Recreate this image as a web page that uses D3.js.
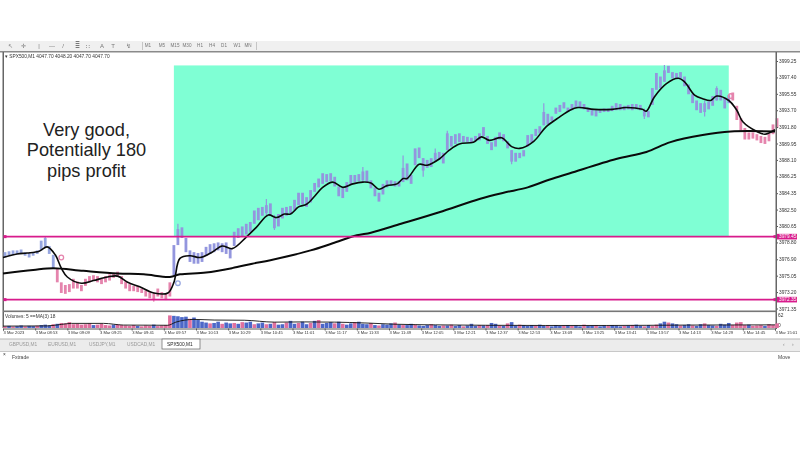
<!DOCTYPE html>
<html>
<head>
<meta charset="utf-8">
<script src="https://cdn.jsdelivr.net/npm/d3@7"></script>
<style>
  html, body { margin: 0; padding: 0; background: #fff; }
  svg { display: block; }
  text { font-family: "Liberation Sans", sans-serif; }
</style>
</head>
<body>
<div id="chart"></div>
<script>
var svgWidth = 800;
var svgHeight = 450;

var priceTicks = [3999.25, 3997.40, 3995.55, 3993.70, 3991.80, 3989.95, 3988.10, 3986.25,
  3984.35, 3982.50, 3980.65, 3978.80, 3976.90, 3975.05, 3973.20, 3971.35];

var timeMinutes = [0, 16, 32, 48, 64, 80, 96, 112, 128, 144, 160, 176, 192, 208, 224, 240,
  256, 272, 288, 304, 320, 336, 352, 368, 384];
var timeLabels = ["3 Mar 2023", "3 Mar 08:53", "3 Mar 09:09", "3 Mar 09:25", "3 Mar 09:41", "3 Mar 09:57",
  "3 Mar 10:13", "3 Mar 10:29", "3 Mar 10:45", "3 Mar 11:01", "3 Mar 11:17", "3 Mar 11:33", "3 Mar 11:49",
  "3 Mar 12:05", "3 Mar 12:21", "3 Mar 12:37", "3 Mar 12:53", "3 Mar 13:09", "3 Mar 13:25", "3 Mar 13:41",
  "3 Mar 13:57", "3 Mar 14:13", "3 Mar 14:29", "3 Mar 14:45", "3 Mar 15:01"];

// candle bodies, one every two minutes starting at minute 1
var barTop = [
  3977.7,3977.8,3977.9,3977.9,3978.0,3977.7,3977.6,3977.6,3977.9,3979.0,
  3979.3,3978.4,3977.4,3975.9,3974.3,3974.0,3974.1,3974.7,3974.4,3974.0,
  3974.7,3975.0,3975.1,3975.0,3974.7,3975.0,3975.2,3975.3,3975.5,3975.0,
  3974.4,3974.1,3973.9,3973.9,3973.6,3973.4,3973.2,3973.0,3973.6,3973.2,
  3973.0,3974.3,3978.5,3980.3,3980.5,3979.3,3977.9,3977.7,3977.6,3977.7,
  3978.3,3978.6,3978.7,3978.8,3978.7,3978.8,3978.1,3980.0,3980.4,3980.6,
  3980.9,3981.1,3982.4,3982.7,3982.8,3983.0,3983.2,3981.6,3982.0,3982.7,
  3982.8,3982.9,3983.6,3984.4,3984.4,3983.9,3984.7,3985.5,3986.0,3986.6,
  3986.5,3986.6,3986.2,3985.1,3984.9,3985.6,3986.4,3986.4,3986.5,3986.8,
  3986.9,3985.8,3985.0,3984.4,3985.4,3985.8,3985.8,3985.7,3985.7,3987.2,
  3987.7,3986.4,3989.4,3989.5,3988.3,3988.1,3988.3,3988.9,3989.0,3988.9,
  3991.1,3990.8,3991.0,3991.1,3990.8,3990.7,3990.6,3990.8,3991.1,3991.8,
  3990.8,3990.1,3990.7,3991.2,3991.0,3990.2,3989.2,3988.9,3988.9,3989.2,
  3990.9,3991.0,3991.6,3991.9,3993.5,3993.3,3993.0,3994.0,3994.3,3994.6,
  3994.0,3994.4,3994.8,3994.7,3994.4,3994.0,3993.8,3993.7,3993.8,3993.9,
  3993.9,3994.2,3994.5,3994.4,3994.2,3994.3,3994.4,3994.4,3994.3,3993.7,
  3993.6,3996.2,3997.9,3997.5,3998.2,3998.7,3998.0,3997.9,3998.0,3997.5,
  3996.6,3995.5,3994.8,3994.5,3994.5,3994.7,3995.3,3996.2,3996.0,3995.1,
  3995.4,3995.7,3994.2,3992.8,3991.7,3991.2,3991.2,3991.0,3990.8,3990.7,
  3991.1,3992.1,3992.8];
var barBottom = [
  3977.1,3977.3,3977.4,3977.5,3977.6,3977.3,3977.1,3977.3,3977.5,3977.9,
  3978.3,3977.5,3975.9,3974.3,3973.1,3973.0,3973.2,3973.6,3973.6,3973.3,
  3973.9,3974.3,3974.5,3974.3,3974.1,3974.3,3974.5,3974.8,3974.9,3974.1,
  3973.6,3973.3,3973.3,3973.2,3973.1,3972.7,3972.5,3972.3,3972.7,3972.5,
  3972.3,3972.7,3975.1,3978.5,3979.3,3977.7,3976.6,3976.4,3976.4,3976.6,
  3977.3,3977.5,3977.7,3977.9,3977.7,3977.5,3977.0,3978.4,3979.3,3979.5,
  3979.7,3980.0,3980.9,3981.3,3981.8,3982.1,3981.8,3980.4,3980.6,3981.5,
  3981.8,3982.1,3982.4,3983.0,3983.1,3982.8,3983.3,3984.5,3985.0,3985.4,
  3985.6,3985.7,3985.1,3984.0,3983.8,3984.5,3985.4,3985.6,3985.7,3985.8,
  3985.6,3984.9,3984.0,3983.4,3984.2,3985.0,3985.2,3985.1,3985.1,3985.6,
  3985.8,3985.4,3987.5,3988.3,3986.9,3987.2,3987.3,3988.0,3988.1,3987.7,
  3989.2,3989.6,3989.9,3990.1,3990.1,3990.1,3990.1,3990.2,3990.3,3990.8,
  3989.9,3989.2,3989.6,3990.4,3990.2,3989.4,3987.9,3987.9,3988.3,3988.5,
  3989.6,3990.1,3990.8,3991.1,3992.0,3992.1,3992.5,3993.3,3993.5,3993.9,
  3993.5,3993.7,3994.0,3994.0,3993.8,3993.5,3993.1,3993.0,3993.4,3993.5,
  3993.5,3993.6,3993.7,3993.7,3993.7,3993.8,3993.7,3993.8,3993.7,3993.0,
  3992.9,3994.3,3996.0,3996.2,3996.9,3997.9,3997.3,3997.3,3997.3,3996.4,
  3995.5,3994.5,3993.7,3993.4,3993.5,3993.8,3994.2,3994.8,3994.8,3993.9,
  3994.5,3994.8,3992.6,3991.4,3990.4,3990.4,3990.5,3990.3,3990.0,3989.9,
  3990.2,3991.0,3991.7];

// the few long wicks that stick out of the candle mass
var wickMinutes = [269, 199, 221, 209, 215, 253, 179, 135, 131, 87, 329, 349, 355, 319, 75, 21];
var wickHigh = [3994.5, 3988.6, 3991.4, 3988.3, 3989.4, 3989.2, 3987.3, 3981.9, 3983.7, 3980.9, 3998.8, 3994.8, 3996.4, 3993.9, 3973.2, 3979.5];
var wickLow = [3992.0, 3985.8, 3989.2, 3986.2, 3988.0, 3987.6, 3985.6, 3980.2, 3981.9, 3978.5, 3997.8, 3993.0, 3994.8, 3992.7, 3972.1, 3978.2];

// minute at which the candle colour flips
var trendMinutes = [0, 27, 85, 363];
var trendColors = ["#97a6e0", "#e584ad", "#9396de", "#e584ad"];

var fastMinutes = [0,7,12,18,22,26,29,32,39,45,52,57,62,68,75,82,85,88,93,98,104,109,114,121,126,132,136,140,143,147,151,155,159,164,169,174,179,183,187,191,196,199,201,207,211,217,222,227,234,238,242,248,253,257,264,270,276,282,286,294,303,310,318,320,324,330,336,339,344,348,352,355,361,365,368,375,379,384];
var fastValues = [3977.1,3977.5,3977.6,3977.8,3978.3,3977.4,3975.9,3974.9,3974.2,3974.5,3974.9,3975.0,3974.3,3973.8,3973.1,3973.1,3974.3,3977.0,3977.3,3977.1,3977.7,3978.4,3978.1,3979.4,3980.5,3981.9,3981.6,3982.0,3982.0,3982.8,3983.1,3984.0,3985.0,3985.6,3985.0,3985.4,3985.6,3985.5,3984.8,3985.2,3985.4,3986.0,3986.0,3987.6,3987.5,3988.2,3989.2,3989.9,3990.1,3990.7,3990.3,3990.6,3989.6,3989.4,3990.2,3991.8,3992.8,3993.7,3994.0,3993.8,3993.8,3994.0,3993.8,3993.6,3995.2,3996.7,3997.3,3996.9,3995.4,3995.0,3994.8,3995.3,3994.8,3993.7,3992.4,3991.3,3991.0,3991.5];

var slowMinutes = [0,15,25,40,57,70,83,88,101,114,124,133,153,164,176,183,198,217,237,249,261,272,282,305,320,332,348,362,384];
var slowValues = [3975.3,3975.7,3975.9,3975.6,3975.3,3975.2,3974.9,3975.2,3975.4,3975.9,3976.4,3976.8,3977.9,3978.7,3979.6,3979.9,3980.9,3982.2,3983.7,3984.4,3985.0,3985.9,3986.6,3988.2,3989.0,3990.1,3990.9,3991.3,3991.3];

var shadeMinutes = [85, 361];
var shadePrices = [3998.75, 3979.45];
var levelPrices = [3979.45, 3972.35];
var levelLabels = ["3979.45", "3972.35"];

var signalMinutes = [29, 87, 362];
var signalPrices = [3977.1, 3974.2, 3995.3];
var signalColors = ["#e584ad", "#97a6e0", "#e584ad"];

// volume histogram, same two minute step as the candles
var volumes = [
  8,10,7,9,12,8,10,9,11,14,
  16,12,18,20,24,22,28,18,20,16,
  18,22,14,16,20,14,12,16,18,14,
  12,10,14,10,8,12,10,16,9,12,
  14,60,58,56,52,54,44,50,38,30,
  26,22,24,30,20,26,22,24,20,28,
  26,30,18,22,26,18,20,28,16,18,
  26,34,20,24,30,18,24,34,38,20,
  24,28,22,30,20,16,22,28,30,20,
  18,24,14,12,18,16,22,26,16,14,
  14,20,16,12,10,14,18,14,10,12,
  12,16,10,14,8,12,20,10,14,12,
  14,24,20,12,10,22,28,12,16,14,
  10,14,12,16,10,12,8,14,10,12,
  14,10,12,8,16,10,12,14,8,12,
  10,14,12,8,10,12,14,16,10,8,
  14,10,16,22,30,26,22,18,12,14,
  18,12,10,18,22,14,12,10,20,16,
  24,14,26,28,14,16,10,12,14,10,
  18,14,22];
var volumeSide = ("pbpbbpbbpb" + "bbpbpppppp" + "ppbppppbpp" + "pppbpppbpp" + "ppbbbbpbbb" +
  "bpbbpbbpbp" + "bbpbbpbpbb" + "pbbpbbpbpb" + "bbpbpbbpbb" + "bpbpbbbpbp" +
  "bbpbbbpbbp" + "bpbbpbbbpb" + "pbbpbpbbpb" + "bbpbbpbbbp" + "bpbbpbbpbb" +
  "pbbbpbpbbp" + "bppbbpbbpb" + "bpbbpbbpbb" + "bppppbpppb" + "ppp").split("");
var volumeMaMinutes = [0,22,29,34,50,60,82,86,95,105,120,135,150,165,180,195,215,240,270,300,340,384];
var volumeMaValues = [9,10,17,22,22,14,13,28,41,38,37,28,29,28,24,18,15,13,12,12,14,15];

var tabNames = ["GBPUSD,M1", "EURUSD,M1", "USDJPY,M1", "USDCAD,M1", "SPX500,M1"];
var periodNames = ["M1", "M5", "M15", "M30", "H1", "H4", "D1", "W1", "MN"];
var toolNames = ["↖", "✛", "|", "—", "/", "≣", "∷", "A", "T", "↯"];
var noteLines = ["Very good,", "Potentially 180", "pips profit"];

var svg = d3
  .select("#chart")
  .append("svg")
  .attr("width", svgWidth)
  .attr("height", svgHeight);

// the reference is a scaled down screenshot, so marks and small text are soft
var defs = svg.append("defs");
defs.append("filter")
  .attr("id", "soft")
  .attr("filterUnits", "userSpaceOnUse")
  .attr("x", 0).attr("y", 0).attr("width", svgWidth).attr("height", svgHeight)
  .append("feGaussianBlur").attr("stdDeviation", 0.6);
defs.append("filter")
  .attr("id", "softText")
  .attr("filterUnits", "userSpaceOnUse")
  .attr("x", 0).attr("y", 0).attr("width", svgWidth).attr("height", svgHeight)
  .append("feGaussianBlur").attr("stdDeviation", 0.3);

var xScale = d3.scaleLinear().domain([0, 384]).range([3, 775]);
var yScale = d3.scaleLinear().domain([3999.25, 3971.35]).range([61, 308.5]);
var volumeScale = d3.scaleLinear().domain([0, 62]).range([328, 315]);

// toolbar
svg.append("rect").attr("x", 0).attr("y", 41).attr("width", 800).attr("height", 10).attr("fill", "#f0f0f0");
svg.append("rect").attr("x", 0).attr("y", 51).attr("width", 800).attr("height", 1.5).attr("fill", "#8a8a8a");
svg.append("rect").attr("x", 2.5).attr("y", 52).attr("width", 1.5).attr("height", 276).attr("fill", "#666");
svg.append("rect").attr("x", 142).attr("y", 42).attr("width", 0.8).attr("height", 8).attr("fill", "#bbb");
svg.append("rect").attr("x", 256).attr("y", 42).attr("width", 0.8).attr("height", 8).attr("fill", "#bbb");

var smallText = svg.append("g").attr("filter", "url(#softText)");

smallText.selectAll(".tool")
  .data(toolNames)
  .enter()
  .append("text")
  .attr("x", function(d, i) { return [10, 23, 39, 52, 63, 77, 88, 102, 113, 128][i]; })
  .attr("y", 48)
  .attr("text-anchor", "middle")
  .attr("font-size", "6px")
  .attr("fill", "#777")
  .text(function(d) { return d; });

smallText.selectAll(".period")
  .data(periodNames)
  .enter()
  .append("text")
  .attr("x", function(d, i) { return [148, 162, 175, 187, 200, 212, 224, 237, 248][i]; })
  .attr("y", 47)
  .attr("text-anchor", "middle")
  .attr("font-size", "4.6px")
  .attr("fill", "#777")
  .text(function(d) { return d; });

smallText.append("text")
  .attr("x", 5)
  .attr("y", 58)
  .attr("font-size", "4.8px")
  .attr("fill", "#333")
  .text("▾ SPX500,M1  4047.70 4048.20 4047.70 4047.70");

// profit zone
svg.append("rect")
  .attr("x", xScale(shadeMinutes[0]))
  .attr("y", yScale(shadePrices[0]))
  .attr("width", xScale(shadeMinutes[1]) - xScale(shadeMinutes[0]))
  .attr("height", yScale(shadePrices[1]) - yScale(shadePrices[0]))
  .attr("fill", "#7fffd4");

var minuteColor = d3.scaleThreshold().domain(trendMinutes.slice(1)).range(trendColors);

// candles
var candleGroup = svg.append("g").attr("filter", "url(#soft)");

candleGroup.selectAll(".wick")
  .data(wickMinutes)
  .enter()
  .append("line")
  .attr("x1", function(d) { return xScale(d); })
  .attr("x2", function(d) { return xScale(d); })
  .attr("y1", function(d, i) { return yScale(wickHigh[i]); })
  .attr("y2", function(d, i) { return yScale(wickLow[i]); })
  .attr("stroke", function(d) { return minuteColor(d); })
  .attr("stroke-width", 1.2);

candleGroup.selectAll(".bar")
  .data(barTop)
  .enter()
  .append("rect")
  .attr("x", function(d, i) { return xScale(1 + i * 2) - 1.4; })
  .attr("y", function(d) { return yScale(d); })
  .attr("width", 2.8)
  .attr("height", function(d, i) { return yScale(barBottom[i]) - yScale(d); })
  .attr("fill", function(d, i) { return minuteColor(1 + i * 2); });

candleGroup.selectAll(".signal")
  .data(signalMinutes)
  .enter()
  .append("circle")
  .attr("cx", function(d) { return xScale(d); })
  .attr("cy", function(d, i) { return yScale(signalPrices[i]); })
  .attr("r", 2.3)
  .attr("fill", "none")
  .attr("stroke-width", 1.3)
  .attr("stroke", function(d, i) { return signalColors[i]; });

// moving averages
var maLine = d3.line()
  .x(function(d) { return xScale(d[0]); })
  .y(function(d) { return yScale(d[1]); })
  .curve(d3.curveCatmullRom);

svg.append("path")
  .attr("d", maLine(d3.zip(slowMinutes, slowValues)))
  .attr("fill", "none")
  .attr("stroke", "#0a0a0a")
  .attr("stroke-width", 2);

svg.append("path")
  .attr("d", maLine(d3.zip(fastMinutes, fastValues)))
  .attr("fill", "none")
  .attr("stroke", "#0a0a0a")
  .attr("stroke-width", 1.6);

// horizontal levels
svg.selectAll(".level")
  .data(levelPrices)
  .enter()
  .append("line")
  .attr("x1", 4)
  .attr("x2", 776)
  .attr("y1", function(d) { return yScale(d); })
  .attr("y2", function(d) { return yScale(d); })
  .attr("stroke", "#d81b8c")
  .attr("stroke-width", 1.8);

svg.selectAll(".levelEnd")
  .data(levelPrices.concat(levelPrices))
  .enter()
  .append("rect")
  .attr("x", function(d, i) { return i < 2 ? 3.5 : 773.5; })
  .attr("y", function(d) { return yScale(d) - 1.5; })
  .attr("width", 3)
  .attr("height", 3)
  .attr("fill", "#d81b8c");

// price axis
var rightAxis = d3.axisRight(yScale)
  .tickValues(priceTicks)
  .tickFormat(d3.format(".2f"))
  .tickSize(2)
  .tickPadding(1);

var priceAxis = svg.append("g")
  .attr("transform", "translate(776, 0)")
  .attr("filter", "url(#softText)")
  .call(rightAxis);
priceAxis.select(".domain").remove();
priceAxis.selectAll("text").attr("font-size", "4.8px").attr("fill", "#333").style("font-family", "Liberation Sans");
priceAxis.selectAll("line").attr("stroke", "#555");

svg.append("rect").attr("x", 775.5).attr("y", 52).attr("width", 1.5).attr("height", 277).attr("fill", "#666");

svg.selectAll(".levelTag")
  .data(levelPrices)
  .enter()
  .append("rect")
  .attr("x", 777)
  .attr("y", function(d) { return yScale(d) - 2.8; })
  .attr("width", 20)
  .attr("height", 5.6)
  .attr("fill", "#d81b8c");

svg.selectAll(".levelText")
  .data(levelLabels)
  .enter()
  .append("text")
  .attr("x", 779)
  .attr("y", function(d, i) { return yScale(levelPrices[i]) + 1.8; })
  .attr("font-size", "4.8px")
  .attr("fill", "#fff")
  .text(function(d) { return d; });

// volume window
svg.append("rect").attr("x", 3).attr("y", 310.5).attr("width", 774).attr("height", 1.6).attr("fill", "#777");

var volumeGroup = svg.append("g").attr("filter", "url(#soft)");

volumeGroup.selectAll(".volume")
  .data(volumes)
  .enter()
  .append("rect")
  .attr("x", function(d, i) { return xScale(1 + i * 2) - 1.8; })
  .attr("y", function(d) { return volumeScale(d); })
  .attr("width", 3.6)
  .attr("height", function(d) { return volumeScale(0) - volumeScale(d); })
  .attr("fill", function(d, i) { return volumeSide[i] == "b" ? "#4d68c8" : "#e0709e"; });

var volumeMaLine = d3.line()
  .x(function(d) { return xScale(d[0]); })
  .y(function(d) { return volumeScale(d[1]); })
  .curve(d3.curveMonotoneX);

svg.append("path")
  .attr("d", volumeMaLine(d3.zip(volumeMaMinutes, volumeMaValues)))
  .attr("fill", "none")
  .attr("stroke", "#111")
  .attr("stroke-width", 0.9);

smallText.append("text")
  .attr("x", 5)
  .attr("y", 317.5)
  .attr("font-size", "4.8px")
  .attr("fill", "#333")
  .text("Volumes: 5  ==MA(3) 18");

smallText.append("text").attr("x", 778).attr("y", 317).attr("font-size", "4.8px").attr("fill", "#333").text("62");
smallText.append("text").attr("x", 778).attr("y", 327).attr("font-size", "4.8px").attr("fill", "#333").text("0");

// time axis
var bottomAxis = d3.axisBottom(xScale)
  .tickValues(timeMinutes)
  .tickFormat(function(d, i) { return timeLabels[i]; })
  .tickSize(2)
  .tickPadding(1);

var timeAxis = svg.append("g")
  .attr("transform", "translate(0, 328.5)")
  .call(bottomAxis);
timeAxis.select(".domain").attr("stroke", "#555").attr("stroke-width", 1);
timeAxis.selectAll("line").attr("stroke", "#555");
timeAxis.selectAll("text")
  .attr("font-size", "4.1px")
  .attr("fill", "#333")
  .attr("text-anchor", "start")
  .attr("filter", "url(#softText)")
  .style("font-family", "Liberation Sans");

// terminal tabs
svg.append("rect").attr("x", 0).attr("y", 339).attr("width", 800).attr("height", 13).attr("fill", "#ececec");
svg.append("rect").attr("x", 0).attr("y", 338.5).attr("width", 800).attr("height", 1).attr("fill", "#b5b5b5");
svg.append("rect").attr("x", 0).attr("y", 351).attr("width", 800).attr("height", 1).attr("fill", "#c8c8c8");
svg.append("rect").attr("x", 162).attr("y", 339).attr("width", 38).attr("height", 10).attr("fill", "#fff").attr("stroke", "#666").attr("stroke-width", 0.7);

var lowerText = svg.append("g").attr("filter", "url(#softText)");

lowerText.selectAll(".tab")
  .data(tabNames)
  .enter()
  .append("text")
  .attr("x", function(d, i) { return [9, 48, 89, 127, 167][i]; })
  .attr("y", 346)
  .attr("font-size", "4.8px")
  .attr("fill", function(d, i) { return i == 4 ? "#222" : "#999"; })
  .text(function(d) { return d; });

lowerText.append("text").attr("x", 12).attr("y", 358.5).attr("font-size", "5px").attr("fill", "#444").text("Fxtrade");
lowerText.append("text").attr("x", 778).attr("y", 358.5).attr("font-size", "5px").attr("fill", "#444").text("Move");
lowerText.append("text").attr("x", 3).attr("y", 356).attr("font-size", "4.8px").attr("fill", "#333").text("×");
lowerText.append("text").attr("x", 783).attr("y", 346).attr("font-size", "5px").attr("fill", "#888").text("‹");
lowerText.append("text").attr("x", 792).attr("y", 346).attr("font-size", "5px").attr("fill", "#888").text("›");

// note on the left
svg.selectAll(".note")
  .data(noteLines)
  .enter()
  .append("text")
  .attr("x", 86.5)
  .attr("y", function(d, i) { return [136, 156, 177][i]; })
  .attr("text-anchor", "middle")
  .attr("font-size", "18.2px")
  .attr("fill", "#222")
  .style("font-family", "Liberation Sans")
  .text(function(d) { return d; });
</script>
</body>
</html>
